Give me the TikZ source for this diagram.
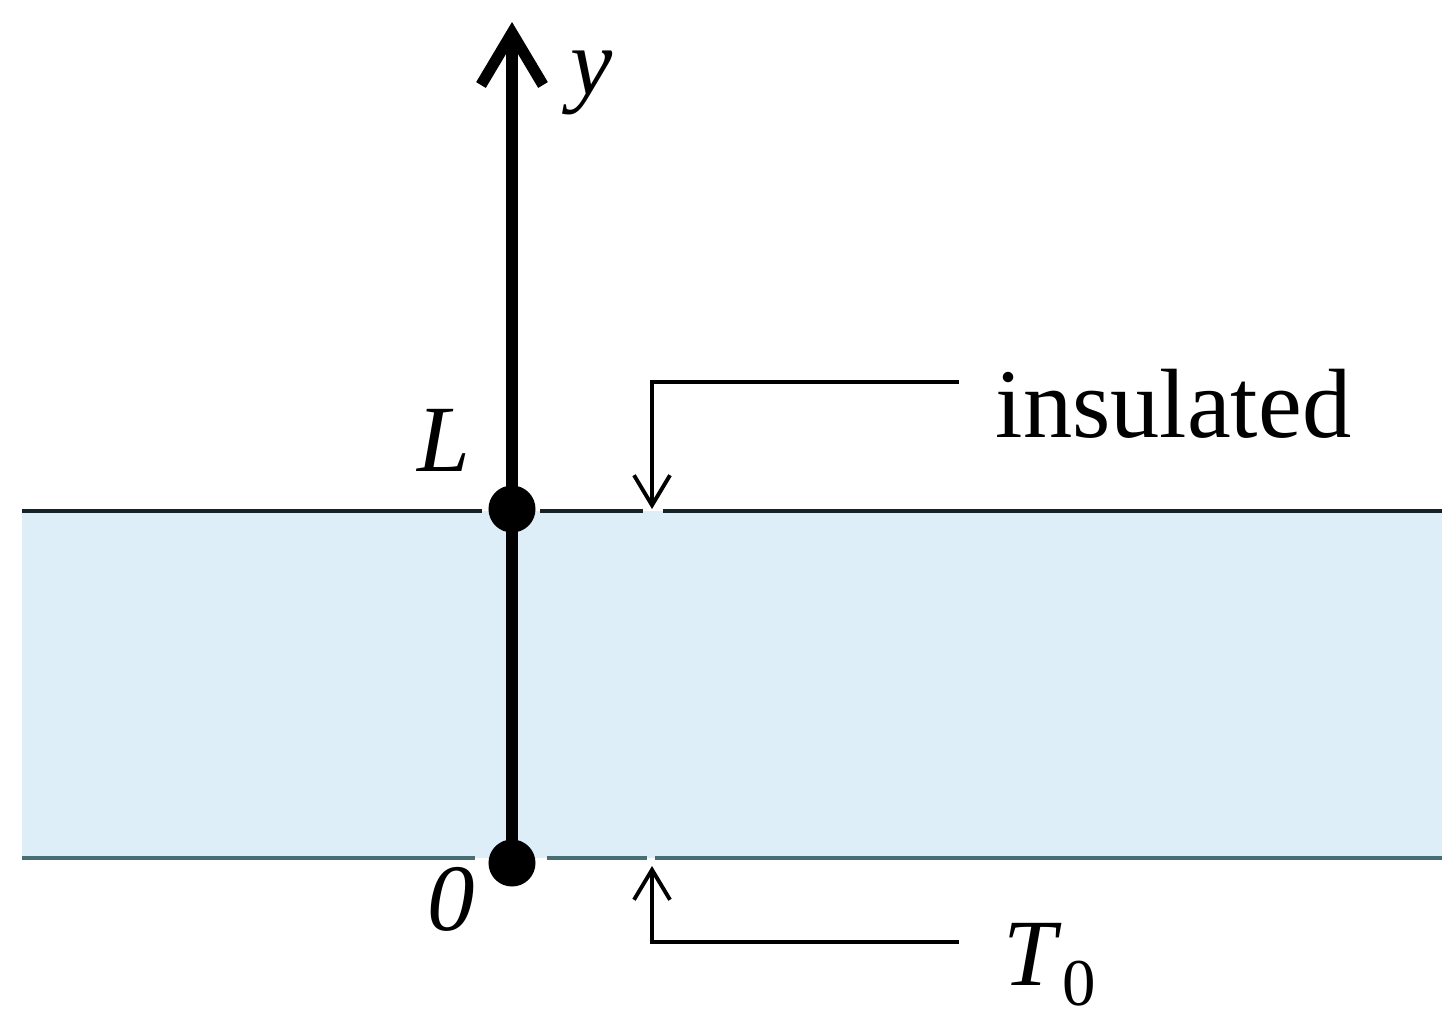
\documentclass[tikz,border=0pt]{standalone}
\usepackage{fontspec}
\setmainfont{Liberation Serif}
\usepackage{tikz}
\usetikzlibrary{arrows.meta}
\definecolor{bandfill}{RGB}{221,238,248}
\definecolor{topedge}{RGB}{20,35,40}
\definecolor{botedge}{RGB}{70,110,115}

\begin{document}
\begin{tikzpicture}[x=0.01cm, y=-0.01cm,
  lab/.style={inner sep=0pt, font=\fontsize{27}{30}\selectfont},
  leader/.style={line width=1.1pt, -{Straight Barb[length=0.3cm, width=0.36cm, line width=1.1pt]}},
  dot/.style={circle, fill=black, inner sep=0pt, minimum size=0.47cm}]
  \useasboundingbox (0,0) rectangle (1442,1016);
  % layer
  \fill[bandfill] (22,511) rectangle (1442,858);
  \draw[topedge, line width=1.4pt] (22,511) -- (482,511) (540,511) -- (643,511) (663,511) -- (1442,511);
  \draw[botedge, line width=1.4pt] (22,858) -- (475,858) (547,858) -- (647,858) (655,858) -- (1442,858);
  % axis and points
  \node[dot] (Odot) at (512,863) {};
  \node[dot] (Ldot) at (512,509) {};
  \coordinate (ytip) at (512,22);
  \draw[line width=3.2pt, -{Straight Barb[length=0.52cm, width=0.62cm, line width=3.2pt]}] (Odot.center) -- (ytip);
  \node[lab, anchor=base west] (ylab) at (570,95) {\textit{y}};
  \node[lab, anchor=base west] (Llab) at (417,472) {\textit{L}};
  \node[lab, anchor=base west] (Olab) at (427,930) {\textit{0}};
  % boundary conditions
  \node[lab, anchor=base west, font=\fontsize{28}{30}\selectfont] (ins) at (995,438) {insulated};
  \node[lab, anchor=base west] (tzero) at (1003,985) {\textit{T}\raisebox{-0.22em}{\fontsize{19}{21}\selectfont 0}};
  \coordinate (insend) at (959,382);
  \coordinate (instip) at (652,509);
  \coordinate (tend) at (959,942);
  \coordinate (ttip) at (652,866);
  \draw[leader] (insend) -| (instip);
  \draw[leader] (tend) -| (ttip);
\end{tikzpicture}
\end{document}
